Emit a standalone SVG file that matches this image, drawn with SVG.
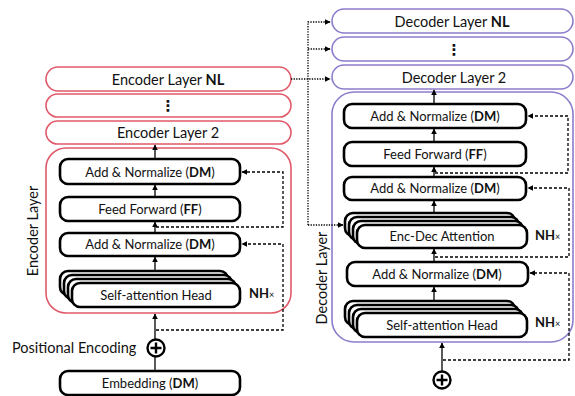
<svg xmlns="http://www.w3.org/2000/svg" width="575" height="396" viewBox="0 0 575 396">
  <style>
    text { font-family: Lato, "Open Sans", "Liberation Sans", sans-serif; fill: #111; }
    .lbl { font-size: 13px; text-anchor: middle; }
    .big { font-size: 14.5px; text-anchor: middle; }
    .side { font-size: 14.5px; text-anchor: middle; }
    .b { font-weight: 700; }
    .vdots { font-family: "DejaVu Sans", sans-serif; font-size: 15px; font-weight: 700; text-anchor: middle; }
    .enc { fill: #fff; stroke: #e05a6a; stroke-width: 1.6; }
    .dec { fill: #fff; stroke: #8e7ccc; stroke-width: 1.6; }
    .blk { fill: #fff; stroke: #000; stroke-width: 2.6; }
    .solid { fill: none; stroke: #000; stroke-width: 1.3; }
    .dash { fill: none; stroke: #000; stroke-width: 1.3; stroke-dasharray: 3 2; }
    .dot { fill: none; stroke: #000; stroke-width: 1.3; stroke-dasharray: 1.3 1.3; }
    .plus { fill: #fff; stroke: #000; stroke-width: 2.4; }
  </style>
  <defs>
    <marker id="ah" viewBox="0 0 10 10" refX="9" refY="5" markerWidth="6" markerHeight="6" markerUnits="userSpaceOnUse" orient="auto">
      <path d="M0,0 L10,5 L0,10 z" fill="#000"/>
    </marker>
  </defs>

  <!-- ===== Encoder stack ===== -->
  <g id="enc-layer-nl">
    <rect class="enc" x="46" y="67" width="245" height="24" rx="12"/>
    <text class="big" x="168" y="84.5">Encoder Layer <tspan class="b">NL</tspan></text>
  </g>
  <g id="enc-ellipsis">
    <rect class="enc" x="46" y="94" width="245" height="23" rx="11.5"/>
    <text class="vdots" x="168" y="111">⋮</text>
  </g>
  <g id="enc-layer-2">
    <rect class="enc" x="46" y="121" width="245" height="23" rx="11.5"/>
    <text class="big" x="168" y="137.5">Encoder Layer 2</text>
  </g>
  <g id="enc-layer">
    <rect class="enc" x="46" y="148" width="245" height="165" rx="20"/>
    <text class="side" transform="translate(37.5,231) rotate(-90)">Encoder Layer</text>
  </g>
  <g id="enc-addnorm-2">
    <rect class="blk" x="60" y="159" width="180" height="25" rx="8"/>
    <text class="lbl" x="150" y="176.5">Add &amp; Normalize (<tspan class="b">DM</tspan>)</text>
  </g>
  <g id="enc-ff">
    <rect class="blk" x="60" y="197" width="180" height="24" rx="8"/>
    <text class="lbl" x="150" y="213.5">Feed Forward (<tspan class="b">FF</tspan>)</text>
  </g>
  <g id="enc-addnorm-1">
    <rect class="blk" x="60" y="233" width="180" height="23" rx="8"/>
    <text class="lbl" x="150" y="249">Add &amp; Normalize (<tspan class="b">DM</tspan>)</text>
  </g>
  <g id="enc-self-attn">
    <rect class="blk" x="60" y="271" width="168" height="24" rx="8"/>
    <rect class="blk" x="64" y="275" width="168" height="24" rx="8"/>
    <rect class="blk" x="68" y="279" width="168" height="24" rx="8"/>
    <rect class="blk" x="72" y="283" width="168" height="24" rx="8"/>
    <text class="lbl" x="156" y="300">Self-attention Head</text>
    <text x="249" y="298" style="font-size:13px"><tspan class="b">NH</tspan><tspan style="font-size:9px">×</tspan></text>
  </g>
  <g id="enc-pos-enc">
    <text x="12" y="352.5" style="font-size:14.5px">Positional Encoding</text>
    <circle class="plus" cx="156" cy="348" r="8.5"/>
    <path d="M150.5,348 H161.5 M156,342.5 V353.5" stroke="#000" stroke-width="2.4"/>
  </g>
  <g id="enc-embedding">
    <rect class="blk" x="60" y="371" width="180" height="24" rx="8"/>
    <text class="lbl" x="150" y="388">Embedding (<tspan class="b">DM</tspan>)</text>
  </g>

  <!-- ===== Decoder stack ===== -->
  <g id="dec-layer-nl">
    <rect class="dec" x="332" y="9" width="241" height="24" rx="12"/>
    <text class="big" x="452" y="26.5">Decoder Layer <tspan class="b">NL</tspan></text>
  </g>
  <g id="dec-ellipsis">
    <rect class="dec" x="332" y="37" width="241" height="24" rx="12"/>
    <text class="vdots" x="454" y="54.5">⋮</text>
  </g>
  <g id="dec-layer-2">
    <rect class="dec" x="332" y="65" width="241" height="24" rx="12"/>
    <text class="big" x="454" y="82.5">Decoder Layer 2</text>
  </g>
  <g id="dec-layer">
    <rect class="dec" x="332" y="92" width="241" height="250" rx="22"/>
    <text class="side" transform="translate(326.5,278) rotate(-90)">Decoder Layer</text>
  </g>
  <g id="dec-addnorm-3">
    <rect class="blk" x="344" y="104" width="182" height="24" rx="8"/>
    <text class="lbl" x="435" y="120.5">Add &amp; Normalize (<tspan class="b">DM</tspan>)</text>
  </g>
  <g id="dec-ff">
    <rect class="blk" x="344" y="142" width="182" height="24" rx="8"/>
    <text class="lbl" x="435" y="158.5">Feed Forward (<tspan class="b">FF</tspan>)</text>
  </g>
  <g id="dec-addnorm-2">
    <rect class="blk" x="344" y="177" width="182" height="23" rx="8"/>
    <text class="lbl" x="435" y="193">Add &amp; Normalize (<tspan class="b">DM</tspan>)</text>
  </g>
  <g id="dec-enc-dec-attn">
    <rect class="blk" x="345" y="213" width="170" height="23" rx="8"/>
    <rect class="blk" x="349" y="217" width="170" height="23" rx="8"/>
    <rect class="blk" x="353" y="221" width="170" height="23" rx="8"/>
    <rect class="blk" x="357" y="225" width="170" height="23" rx="8"/>
    <text class="lbl" x="442" y="241">Enc-Dec Attention</text>
    <text x="535" y="240" style="font-size:13px"><tspan class="b">NH</tspan><tspan style="font-size:9px">×</tspan></text>
  </g>
  <g id="dec-addnorm-1">
    <rect class="blk" x="347" y="262" width="181" height="24" rx="8"/>
    <text class="lbl" x="437" y="278.5">Add &amp; Normalize (<tspan class="b">DM</tspan>)</text>
  </g>
  <g id="dec-self-attn">
    <rect class="blk" x="345" y="301" width="170" height="24" rx="8"/>
    <rect class="blk" x="349" y="305" width="170" height="24" rx="8"/>
    <rect class="blk" x="353" y="309" width="170" height="24" rx="8"/>
    <rect class="blk" x="357" y="313" width="170" height="24" rx="8"/>
    <text class="lbl" x="442" y="330">Self-attention Head</text>
    <text x="535" y="327" style="font-size:13px"><tspan class="b">NH</tspan><tspan style="font-size:9px">×</tspan></text>
  </g>
  <g id="dec-input">
    <circle class="plus" cx="442" cy="380" r="8.5"/>
    <path d="M436.5,380 H447.5 M442,374.5 V385.5" stroke="#000" stroke-width="2.4"/>
  </g>

  <!-- ===== Connectors ===== -->
  <g id="connectors">
    <!-- encoder main path -->
    <path class="solid" d="M155,159 V145" marker-end="url(#ah)"/>
    <path class="solid" d="M155,197 V185" marker-end="url(#ah)"/>
    <path class="solid" d="M155,233 V222" marker-end="url(#ah)"/>
    <path class="solid" d="M155,271 V257" marker-end="url(#ah)"/>
    <path class="solid" d="M155,339 V314" marker-end="url(#ah)"/>
    <path class="solid" d="M155,357 V371"/>
    <!-- encoder residuals -->
    <path class="dash" d="M156,227 H283 V172 H242" marker-end="url(#ah)"/>
    <path class="dash" d="M156,330 H283 V244 H242" marker-end="url(#ah)"/>
    <!-- encoder output to decoder layers -->
    <path class="dot" d="M291,79 H330" marker-end="url(#ah)"/>
    <path class="dot" d="M308,225 V22 H330" marker-end="url(#ah)"/>
    <path class="dot" d="M308,49 H330" marker-end="url(#ah)"/>
    <path class="dot" d="M308,225 H343" marker-end="url(#ah)"/>
    <!-- decoder main path -->
    <path class="solid" d="M434,104 V90" marker-end="url(#ah)"/>
    <path class="solid" d="M434,142 V129" marker-end="url(#ah)"/>
    <path class="solid" d="M434,177 V167" marker-end="url(#ah)"/>
    <path class="solid" d="M434,213 V201" marker-end="url(#ah)"/>
    <path class="solid" d="M434,262 V249" marker-end="url(#ah)"/>
    <path class="solid" d="M434,301 V287" marker-end="url(#ah)"/>
    <path class="solid" d="M442,371 V343" marker-end="url(#ah)"/>
    <!-- decoder residuals -->
    <path class="dash" d="M435,173 H568 V116 H528" marker-end="url(#ah)"/>
    <path class="dash" d="M435,257 H569 V188 H528" marker-end="url(#ah)"/>
    <path class="dash" d="M443,360 H569 V273 H530" marker-end="url(#ah)"/>
  </g>
</svg>
